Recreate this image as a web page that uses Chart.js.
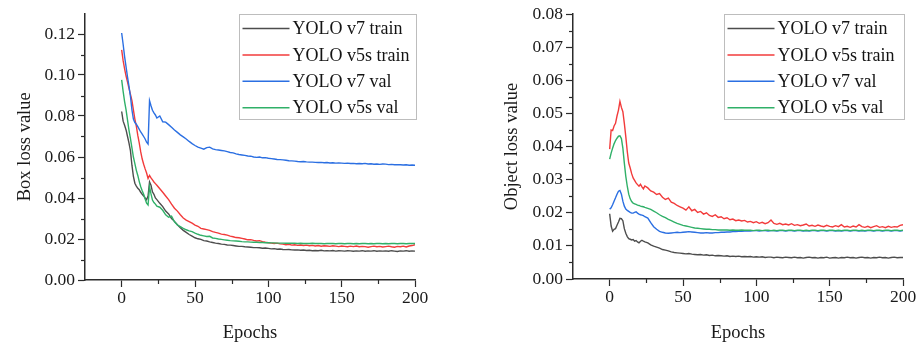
<!DOCTYPE html>
<html>
<head>
<meta charset="utf-8">
<script src="https://cdn.jsdelivr.net/npm/chart.js@4.4.1/dist/chart.umd.min.js"></script>
<style>
  html, body { margin: 0; padding: 0; background: #ffffff; }
  #wrap { position: relative; width: 918px; height: 345px; overflow: hidden; }
  canvas { position: absolute; top: 0; }
  #c1 { left: 0; }
  #c2 { left: 459px; }
</style>
</head>
<body>
<div id="wrap">
  <canvas id="c1" width="459" height="345"></canvas>
  <canvas id="c2" width="459" height="345"></canvas>
</div>
<script>
// ---------- categories (epochs) ----------
const epochs = [0,1,2,3,4,5,6,7,8,9,10,11,12,13,14,15,16,17,18,19,20,21,22,23,24,
  26,28,30,32,34,36,38,40,42,44,
  46,48,50,52,54,56,58,60,62,64,
  66,68,70,72,74,76,78,80,82,84,
  86,88,90,92,94,96,98,100,102,104,
  106,108,110,112,114,116,118,120,122,124,
  126,128,130,132,134,136,138,140,142,144,
  146,148,150,152,154,156,158,160,162,164,
  166,168,170,172,174,176,178,180,182,184,
  186,188,190,192,194,196,198,200];

const seriesLabels = ["YOLO v7 train", "YOLO v5s train", "YOLO v7 val", "YOLO v5s val"];

// ---------- Box loss ----------
const boxV7Train = [0.0822,0.0775,0.0755,0.0732,0.0700,0.0668,0.0630,0.0560,0.0505,0.0472,0.0458,0.0447,0.0440,0.0428,0.0418,0.0410,0.0400,0.0392,0.0410,0.0478,0.0462,0.0430,0.0418,0.0400,0.0392,
  0.0374,0.0358,0.0336,0.0322,0.0300,0.0286,0.0270,0.0255,0.0242,0.0232,
  0.0222,0.0214,0.0206,0.0201,0.0198,0.0192,0.0190,0.0186,0.0183,0.0180,
  0.0178,0.0175,0.0174,0.0171,0.0170,0.0168,0.0166,0.0164,0.0164,0.0162,
  0.0161,0.0160,0.0158,0.0158,0.0157,0.0155,0.0156,0.0154,0.0152,0.0153,
  0.0150,0.0151,0.0149,0.0148,0.0149,0.0147,0.0146,0.0147,0.0145,0.0146,
  0.0144,0.0145,0.0143,0.0144,0.0143,0.0145,0.0142,0.0143,0.0142,0.0144,
  0.0141,0.0143,0.0142,0.0141,0.0143,0.0142,0.0140,0.0142,0.0141,0.0143,
  0.0140,0.0142,0.0141,0.0143,0.0140,0.0142,0.0141,0.0142,0.0140,0.0143,
  0.0141,0.0139,0.0142,0.0141,0.0143,0.0140,0.0142,0.0141];

const boxV5sTrain = [0.1123,0.1070,0.1030,0.0995,0.0965,0.0935,0.0905,0.0875,0.0830,0.0785,0.0750,0.0705,0.0668,0.0625,0.0590,0.0565,0.0542,0.0522,0.0495,0.0510,0.0498,0.0488,0.0478,0.0470,0.0462,
  0.0445,0.0428,0.0410,0.0392,0.0370,0.0350,0.0336,0.0318,0.0302,0.0292,
  0.0285,0.0277,0.0268,0.0262,0.0252,0.0249,0.0246,0.0242,0.0236,0.0232,
  0.0229,0.0224,0.0222,0.0219,0.0214,0.0211,0.0207,0.0206,0.0203,0.0200,
  0.0196,0.0197,0.0193,0.0190,0.0192,0.0187,0.0184,0.0182,0.0180,0.0178,
  0.0180,0.0176,0.0175,0.0172,0.0174,0.0170,0.0172,0.0169,0.0171,0.0168,
  0.0170,0.0167,0.0169,0.0166,0.0168,0.0165,0.0167,0.0166,0.0164,0.0167,
  0.0165,0.0163,0.0166,0.0164,0.0162,0.0165,0.0163,0.0166,0.0162,0.0164,
  0.0163,0.0160,0.0163,0.0165,0.0162,0.0164,0.0161,0.0163,0.0165,0.0162,
  0.0160,0.0164,0.0162,0.0165,0.0161,0.0166,0.0168,0.0172];

const boxV7Val = [0.1205,0.1150,0.1090,0.1040,0.0990,0.0945,0.0895,0.0830,0.0785,0.0768,0.0760,0.0748,0.0735,0.0722,0.0712,0.0700,0.0688,0.0672,0.0663,0.0875,0.0850,0.0828,0.0815,0.0805,0.0790,
  0.0800,0.0772,0.0770,0.0758,0.0745,0.0732,0.0720,0.0708,0.0698,0.0688,
  0.0676,0.0665,0.0656,0.0648,0.0643,0.0638,0.0646,0.0648,0.0640,0.0636,
  0.0634,0.0632,0.0630,0.0626,0.0622,0.0620,0.0615,0.0612,0.0610,0.0608,
  0.0605,0.0604,0.0600,0.0598,0.0600,0.0596,0.0597,0.0594,0.0592,0.0590,
  0.0588,0.0587,0.0586,0.0584,0.0582,0.0581,0.0580,0.0578,0.0577,0.0578,
  0.0576,0.0575,0.0575,0.0574,0.0573,0.0574,0.0572,0.0573,0.0571,0.0572,
  0.0570,0.0571,0.0570,0.0569,0.0570,0.0568,0.0569,0.0567,0.0568,0.0567,
  0.0569,0.0566,0.0567,0.0565,0.0566,0.0564,0.0566,0.0565,0.0563,0.0564,
  0.0562,0.0563,0.0562,0.0561,0.0562,0.0560,0.0561,0.0560];

const boxV5sVal = [0.0976,0.0920,0.0870,0.0830,0.0780,0.0730,0.0690,0.0645,0.0600,0.0568,0.0535,0.0510,0.0480,0.0455,0.0435,0.0418,0.0395,0.0375,0.0366,0.0455,0.0420,0.0390,0.0378,0.0370,0.0360,
  0.0355,0.0340,0.0318,0.0306,0.0312,0.0284,0.0268,0.0260,0.0252,0.0245,
  0.0240,0.0236,0.0229,0.0223,0.0218,0.0215,0.0212,0.0213,0.0205,0.0203,
  0.0200,0.0198,0.0196,0.0194,0.0192,0.0191,0.0190,0.0189,0.0187,0.0186,
  0.0186,0.0185,0.0184,0.0184,0.0183,0.0183,0.0182,0.0182,0.0181,0.0181,
  0.0180,0.0180,0.0180,0.0179,0.0179,0.0179,0.0179,0.0178,0.0179,0.0178,
  0.0178,0.0178,0.0179,0.0178,0.0178,0.0178,0.0177,0.0178,0.0178,0.0178,
  0.0177,0.0178,0.0178,0.0177,0.0178,0.0178,0.0177,0.0178,0.0177,0.0178,
  0.0178,0.0177,0.0178,0.0177,0.0178,0.0178,0.0177,0.0178,0.0177,0.0178,
  0.0178,0.0177,0.0178,0.0178,0.0177,0.0178,0.0178,0.0178];

// ---------- Object loss ----------
const objV7Train = [0.0197,0.0160,0.0144,0.0150,0.0152,0.0162,0.0172,0.0183,0.0182,0.0176,0.0152,0.0138,0.0128,0.0122,0.0120,0.0118,0.0119,0.0114,0.0116,0.0112,0.0109,0.0114,0.0117,0.0114,0.0112,
  0.0109,0.0103,0.0099,0.0096,0.0093,0.0089,0.0087,0.0085,0.0082,0.0080,
  0.0079,0.0078,0.0077,0.0076,0.0077,0.0075,0.0074,0.0073,0.0074,0.0072,
  0.0073,0.0071,0.0072,0.0070,0.0071,0.0070,0.0069,0.0070,0.0068,0.0069,
  0.0068,0.0069,0.0067,0.0068,0.0067,0.0068,0.0066,0.0067,0.0066,0.0067,
  0.0065,0.0066,0.0066,0.0064,0.0066,0.0065,0.0064,0.0066,0.0065,0.0064,
  0.0066,0.0064,0.0065,0.0063,0.0065,0.0066,0.0064,0.0065,0.0063,0.0065,
  0.0064,0.0066,0.0063,0.0064,0.0065,0.0063,0.0065,0.0064,0.0066,0.0064,
  0.0065,0.0063,0.0065,0.0066,0.0064,0.0065,0.0063,0.0065,0.0064,0.0066,
  0.0064,0.0065,0.0063,0.0065,0.0066,0.0064,0.0065,0.0065];

const objV5sTrain = [0.0392,0.0450,0.0448,0.0462,0.0470,0.0492,0.0510,0.0536,0.0518,0.0505,0.0470,0.0430,0.0385,0.0350,0.0335,0.0318,0.0305,0.0298,0.0290,0.0285,0.0280,0.0286,0.0278,0.0272,0.0281,
  0.0275,0.0266,0.0262,0.0255,0.0258,0.0247,0.0240,0.0244,0.0232,0.0228,
  0.0222,0.0218,0.0214,0.0208,0.0218,0.0206,0.0210,0.0201,0.0204,0.0196,
  0.0200,0.0192,0.0189,0.0194,0.0186,0.0188,0.0182,0.0185,0.0179,0.0181,
  0.0176,0.0178,0.0175,0.0177,0.0172,0.0174,0.0170,0.0173,0.0168,0.0171,
  0.0167,0.0170,0.0178,0.0168,0.0165,0.0168,0.0164,0.0166,0.0163,0.0167,
  0.0162,0.0164,0.0161,0.0163,0.0166,0.0160,0.0162,0.0159,0.0163,0.0160,
  0.0158,0.0162,0.0159,0.0157,0.0161,0.0158,0.0164,0.0157,0.0159,0.0156,
  0.0160,0.0157,0.0164,0.0158,0.0156,0.0159,0.0155,0.0158,0.0161,0.0156,
  0.0158,0.0155,0.0159,0.0156,0.0158,0.0157,0.0162,0.0164];

const objV7Val = [0.0211,0.0215,0.0224,0.0235,0.0245,0.0256,0.0265,0.0267,0.0256,0.0235,0.0220,0.0211,0.0207,0.0204,0.0201,0.0199,0.0199,0.0201,0.0203,0.0199,0.0196,0.0194,0.0193,0.0191,0.0188,
  0.0184,0.0170,0.0158,0.0150,0.0144,0.0141,0.0139,0.0138,0.0139,0.0140,
  0.0141,0.0140,0.0141,0.0142,0.0143,0.0142,0.0141,0.0140,0.0139,0.0139,
  0.0140,0.0139,0.0139,0.0140,0.0140,0.0141,0.0141,0.0142,0.0142,0.0143,
  0.0143,0.0144,0.0144,0.0145,0.0145,0.0145,0.0146,0.0146,0.0145,0.0146,
  0.0146,0.0145,0.0146,0.0146,0.0145,0.0146,0.0146,0.0145,0.0146,0.0146,
  0.0145,0.0146,0.0146,0.0145,0.0146,0.0145,0.0146,0.0146,0.0145,0.0146,
  0.0146,0.0145,0.0146,0.0146,0.0145,0.0146,0.0145,0.0146,0.0146,0.0145,
  0.0146,0.0146,0.0145,0.0146,0.0145,0.0146,0.0146,0.0145,0.0146,0.0146,
  0.0145,0.0146,0.0146,0.0145,0.0146,0.0146,0.0145,0.0146];

const objV5sVal = [0.0362,0.0380,0.0395,0.0408,0.0418,0.0425,0.0431,0.0432,0.0424,0.0395,0.0350,0.0310,0.0280,0.0256,0.0242,0.0234,0.0229,0.0227,0.0225,0.0223,0.0222,0.0220,0.0219,0.0218,0.0216,
  0.0213,0.0210,0.0205,0.0200,0.0194,0.0189,0.0185,0.0180,0.0176,0.0172,
  0.0168,0.0165,0.0162,0.0160,0.0158,0.0156,0.0154,0.0153,0.0152,0.0151,
  0.0150,0.0150,0.0149,0.0149,0.0148,0.0148,0.0148,0.0148,0.0147,0.0148,
  0.0147,0.0147,0.0148,0.0147,0.0147,0.0147,0.0146,0.0147,0.0147,0.0146,
  0.0147,0.0147,0.0146,0.0147,0.0146,0.0147,0.0147,0.0146,0.0147,0.0147,
  0.0146,0.0147,0.0147,0.0146,0.0147,0.0146,0.0147,0.0147,0.0146,0.0147,
  0.0147,0.0146,0.0147,0.0147,0.0146,0.0147,0.0146,0.0147,0.0147,0.0146,
  0.0147,0.0147,0.0146,0.0147,0.0146,0.0147,0.0147,0.0146,0.0147,0.0147,
  0.0146,0.0147,0.0147,0.0146,0.0147,0.0147,0.0146,0.0147];

// ---------- axis ticks ----------
const xMajorTicks = [0, 50, 100, 150, 200];
const xMinorTicks = [25, 75, 125, 175];
const boxYTicks = [0, 0.02, 0.04, 0.06, 0.08, 0.10, 0.12];
const boxYMinorTicks = [0.01, 0.03, 0.05, 0.07, 0.09, 0.11];
const objYTicks = [0, 0.01, 0.02, 0.03, 0.04, 0.05, 0.06, 0.07, 0.08];
const objYMinorTicks = [0.005, 0.015, 0.025, 0.035, 0.045, 0.055, 0.065, 0.075];

const colors = ['#4d4d4d', '#f23b3b', '#2b6fe2', '#30b068'];
const FONT = "'Liberation Serif', 'Times New Roman', serif";
const AXIS = '#2b2b2b';

const minorTicksPlugin = {
  id: 'minorTicks',
  afterDraw(chart, args, opts) {
    const ctx = chart.ctx, xs = chart.scales.x, ys = chart.scales.y;
    ctx.save();
    ctx.strokeStyle = AXIS; ctx.lineWidth = 1.2;
    (opts.x || []).forEach(v => {
      const px = Math.round(xs.getPixelForValue(v)) + 0.5;
      ctx.beginPath(); ctx.moveTo(px, xs.top); ctx.lineTo(px, xs.top + opts.len); ctx.stroke();
    });
    (opts.y || []).forEach(v => {
      const py = Math.round(ys.getPixelForValue(v)) + 0.5;
      ctx.beginPath(); ctx.moveTo(ys.right, py); ctx.lineTo(ys.right - opts.len, py); ctx.stroke();
    });
    ctx.restore();
  }
};

const boxLegendPlugin = {
  id: 'boxLegend',
  afterDraw(chart, args, o) {
    const ctx = chart.ctx, ca = chart.chartArea;
    const x0 = Math.round(ca.right + o.dx - o.width) + 0.5;
    const y0 = Math.round(ca.top + o.dy) + 0.5;
    ctx.save();
    ctx.fillStyle = '#ffffff';
    ctx.fillRect(x0, y0, o.width, o.height);
    ctx.strokeStyle = '#bdbdbd'; ctx.lineWidth = 1;
    ctx.strokeRect(x0, y0, o.width, o.height);
    ctx.font = o.font;
    ctx.textBaseline = 'middle';
    ctx.textAlign = 'left';
    chart.data.datasets.forEach((ds, i) => {
      const y = y0 + o.firstRow + i * o.rowGap;
      ctx.strokeStyle = ds.borderColor; ctx.lineWidth = 1.5;
      ctx.beginPath(); ctx.moveTo(x0 + o.lineStart, y); ctx.lineTo(x0 + o.lineEnd, y); ctx.stroke();
      ctx.fillStyle = '#141414';
      ctx.fillText(ds.label, x0 + o.textStart, y + 1);
    });
    ctx.restore();
  }
};

function makeChart(id, seriesList, yMax, yTicks, yTitle, yMinor, geom) {
  const datasets = seriesList.map((arr, i) => ({
    label: seriesLabels[i],
    data: epochs.map((e, j) => ({ x: e, y: arr[j] })),
    borderColor: colors[i],
    backgroundColor: colors[i],
    borderWidth: 1.4,
    pointRadius: 0,
    tension: 0,
    fill: false,
    order: 4 - i
  }));
  return new Chart(document.getElementById(id), {
    type: 'line',
    data: { datasets },
    plugins: [minorTicksPlugin, boxLegendPlugin],
    options: {
      responsive: false,
      animation: false,
      devicePixelRatio: 1,
      layout: { padding: { left: 0, right: geom.padRight, top: geom.padTop, bottom: 0 } },
      plugins: {
        legend: { display: false },
        tooltip: { enabled: false },
        minorTicks: { x: xMinorTicks, y: yMinor, len: 4 },
        boxLegend: {
          dx: 1, dy: 0, width: geom.legW, height: 105,
          firstRow: 14, rowGap: 26.4, lineStart: 3, lineEnd: 50, textStart: 53,
          font: "18px " + FONT
        }
      },
      scales: {
        x: {
          type: 'linear',
          min: -25, max: 200,
          afterBuildTicks: (s) => { s.ticks = xMajorTicks.map(v => ({ value: v })); },
          afterFit: (s) => { s.height = geom.xAxisH; },
          ticks: { font: { family: FONT, size: 17.5 }, color: '#1a1a1a', padding: 1, maxRotation: 0, autoSkip: false,
                   callback: (v) => String(v) },
          grid: { display: true, drawOnChartArea: false, drawTicks: true, tickLength: 7, tickColor: AXIS, tickWidth: 1.2 },
          border: { display: true, color: AXIS, width: 1.5 },
          title: { display: true, text: 'Epochs', color: '#1a1a1a', font: { family: FONT, size: 18.5 }, padding: { top: 0, bottom: 1 } }
        },
        y: {
          type: 'linear',
          min: 0, max: yMax,
          afterBuildTicks: (s) => { s.ticks = yTicks.map(v => ({ value: v })); },
          afterFit: (s) => { s.width = geom.yAxisW; },
          ticks: { font: { family: FONT, size: 17.5 }, color: '#1a1a1a', padding: 3, autoSkip: false,
                   callback: (v) => Number(v).toFixed(2) },
          grid: { display: true, drawOnChartArea: false, drawTicks: true, tickLength: 7, tickColor: AXIS, tickWidth: 1.2 },
          border: { display: true, color: AXIS, width: 1.5 },
          title: { display: true, text: yTitle, color: '#1a1a1a', font: { family: FONT, size: 18.5 }, padding: { top: geom.yTitlePad, bottom: 0 } }
        }
      }
    }
  });
}

Chart.defaults.font.family = FONT;

makeChart('c1', [boxV7Train, boxV5sTrain, boxV7Val, boxV5sVal], 0.13, boxYTicks, 'Box loss value', boxYMinorTicks,
  { padRight: 44, padTop: 13, xAxisH: 65, yAxisW: 85, legW: 177, yTitlePad: 14 });
makeChart('c2', [objV7Train, objV5sTrain, objV7Val, objV5sVal], 0.08, objYTicks, 'Object loss value', objYMinorTicks,
  { padRight: 15, padTop: 14, xAxisH: 66, yAxisW: 114, legW: 180, yTitlePad: 42 });
</script>
</body>
</html>
